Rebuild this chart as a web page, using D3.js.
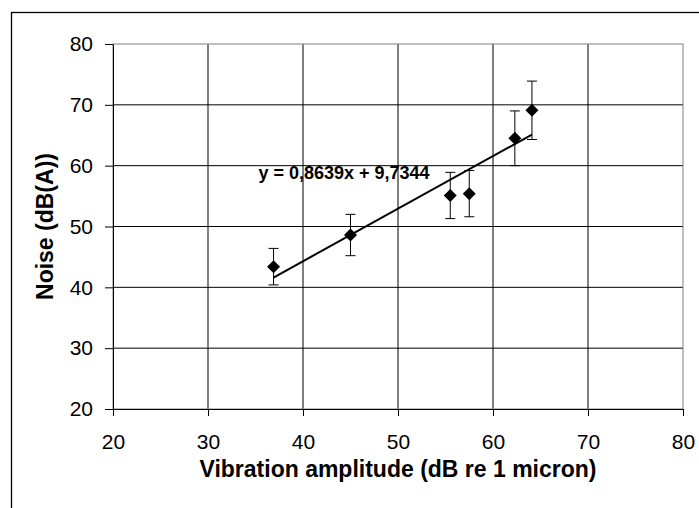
<!DOCTYPE html>
<html>
<head>
<meta charset="utf-8">
<script src="https://cdn.jsdelivr.net/npm/d3@7"></script>
<style>
  body { margin: 0; background: #fff; }
  text { font-family: "Liberation Sans", Arial, sans-serif; }
</style>
</head>
<body>
<div id="chart"></div>
<script>
const vibration = [36.9, 45.0, 55.5, 57.5, 62.3, 64.1];
const noise     = [43.4, 48.6, 55.1, 55.4, 64.5, 69.1];
const errBar    = [3.0, 3.4, 3.8, 3.8, 4.5, 4.8];
const xTicks = [20, 30, 40, 50, 60, 70, 80];
const yTicks = [20, 30, 40, 50, 60, 70, 80];
const slope = 0.8639, intercept = 9.7344;
const eqLabel = "y = 0,8639x + 9,7344";

const W = 699, H = 508;
const margin = {top: 44, right: 16, bottom: 99, left: 113};

const svg = d3.select("#chart").append("svg")
    .attr("width", W)
    .attr("height", H);

// outer chart frame (runs off the right and bottom edges)
svg.append("rect")
    .attr("x", 11.5).attr("y", 12.5)
    .attr("width", W).attr("height", H)
    .attr("fill", "none")
    .attr("stroke", "#000")
    .attr("stroke-width", 1.3);

const x = d3.scaleLinear().domain([20, 80]).range([margin.left, W - margin.right]);
const y = d3.scaleLinear().domain([20, 80]).range([H - margin.bottom, margin.top]);

// grid
svg.append("g").selectAll("line.v")
    .data(xTicks.slice(1, -1))
  .enter().append("line")
    .attr("x1", d => x(d)).attr("x2", d => x(d))
    .attr("y1", y(20)).attr("y2", y(80))
    .attr("stroke", "#000");
svg.append("g").selectAll("line.h")
    .data(yTicks.slice(1, -1))
  .enter().append("line")
    .attr("x1", x(20)).attr("x2", x(80))
    .attr("y1", d => y(d)).attr("y2", d => y(d))
    .attr("stroke", "#000");

// plot area border (grey on top/right)
svg.append("rect")
    .attr("x", x(20)).attr("y", y(80))
    .attr("width", x(80) - x(20)).attr("height", y(20) - y(80))
    .attr("fill", "none")
    .attr("stroke", "#808080");

// axes
const xAxis = svg.append("g")
    .attr("transform", `translate(0,${y(20)})`)
    .call(d3.axisBottom(x).tickValues(xTicks).tickSize(7).tickPadding(18).tickSizeOuter(0));
const yAxis = svg.append("g")
    .attr("transform", `translate(${x(20)},0)`)
    .call(d3.axisLeft(y).tickValues(yTicks).tickSize(8).tickPadding(12).tickSizeOuter(0));
[xAxis, yAxis].forEach(g => {
  g.select(".domain").attr("stroke", "#000");
  g.selectAll(".tick line").attr("stroke", "#000");
  g.selectAll(".tick text")
    .attr("font-family", "Liberation Sans, Arial, sans-serif")
    .attr("font-size", 21)
    .attr("fill", "#000");
});

// trend line over the data range
const xr = d3.extent(vibration);
svg.append("line")
    .attr("x1", x(xr[0])).attr("y1", y(slope * xr[0] + intercept))
    .attr("x2", x(xr[1])).attr("y2", y(slope * xr[1] + intercept))
    .attr("stroke", "#000")
    .attr("stroke-width", 2);

// error bars
const pts = vibration.map((v, i) => ({x: v, y: noise[i], e: errBar[i]}));
const eb = svg.append("g").selectAll("g")
    .data(pts)
  .enter().append("g");
eb.append("line")
    .attr("x1", d => x(d.x)).attr("x2", d => x(d.x))
    .attr("y1", d => y(d.y + d.e)).attr("y2", d => y(d.y - d.e))
    .attr("stroke", "#000");
eb.append("line")
    .attr("x1", d => x(d.x) - 5).attr("x2", d => x(d.x) + 5)
    .attr("y1", d => y(d.y + d.e)).attr("y2", d => y(d.y + d.e))
    .attr("stroke", "#000");
eb.append("line")
    .attr("x1", d => x(d.x) - 5).attr("x2", d => x(d.x) + 5)
    .attr("y1", d => y(d.y - d.e)).attr("y2", d => y(d.y - d.e))
    .attr("stroke", "#000");

// diamond markers
svg.append("g").selectAll("path")
    .data(pts)
  .enter().append("path")
    .attr("transform", d => `translate(${x(d.x)},${y(d.y)})`)
    .attr("d", "M0,-6.5L6.5,0L0,6.5L-6.5,0Z")
    .attr("fill", "#000");

// equation label
svg.append("text")
    .attr("x", 344).attr("y", 179)
    .attr("text-anchor", "middle")
    .attr("font-weight", "bold")
    .attr("font-size", 18)
    .text(eqLabel);

// axis titles
svg.append("text")
    .attr("x", 398).attr("y", 477)
    .attr("text-anchor", "middle")
    .attr("font-weight", "bold")
    .attr("font-size", 23)
    .text("Vibration amplitude (dB re 1 micron)");
svg.append("text")
    .attr("transform", `translate(53,${(y(20) + y(80)) / 2}) rotate(-90)`)
    .attr("text-anchor", "middle")
    .attr("font-weight", "bold")
    .attr("font-size", 23)
    .text("Noise (dB(A))");
</script>
</body>
</html>
